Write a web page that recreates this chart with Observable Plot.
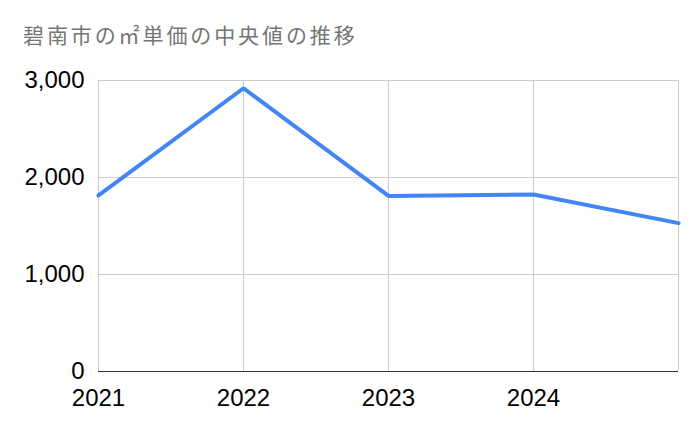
<!DOCTYPE html>
<html>
<head>
<meta charset="utf-8">
<script src="https://cdn.jsdelivr.net/npm/d3@7"></script>
<script src="https://cdn.jsdelivr.net/npm/@observablehq/plot@0.6"></script>
<style>
  html, body { margin: 0; padding: 0; background: #fff; }
  #wrap { width: 700px; height: 433px; position: relative; overflow: hidden; }
  #title {
    height: 60px; box-sizing: border-box; padding: 21px 0 0 23px;
    font-family: "Noto Sans CJK JP", sans-serif; font-size: 21px; letter-spacing: 2.9px;
    color: #757575; line-height: 26px; white-space: nowrap;
  }
  svg { display: block; }
</style>
</head>
<body>
<div id="wrap">
  <div id="title">碧南市の㎡単価の中央値の推移</div>
  <div id="chart"></div>
</div>
<script>
const title = "碧南市の㎡単価の中央値の推移";
const years = [2021, 2022, 2023, 2024, 2025];
const values = [1815, 2920, 1810, 1825, 1530];
const xTicks = [2021, 2022, 2023, 2024];
const yTicks = [0, 1000, 2000, 3000];

const data = years.map((year, i) => ({year, value: values[i]}));

const chart = Plot.plot({
  width: 700,
  height: 373,
  marginTop: 20,
  marginBottom: 62,
  marginLeft: 98,
  marginRight: 22,
  style: {fontFamily: "'Liberation Sans', Arial, sans-serif", fontSize: "24px", color: "#000", background: "#fff"},
  x: {domain: [2021, 2025], label: null},
  y: {domain: [0, 3000], label: null},
  marks: [
    Plot.ruleX(years, {x: d => d, stroke: "#cccccc", strokeWidth: 1}),
    Plot.ruleY(yTicks.filter(d => d > 0), {y: d => d, stroke: "#cccccc", strokeWidth: 1}),
    Plot.ruleY([0], {stroke: "#333333", strokeWidth: 1}),
    Plot.axisY(yTicks, {tickSize: 0, tickPadding: 14, tickFormat: d3.format(","), fontSize: 24, fill: "#000", label: null}),
    Plot.axisX(xTicks, {tickSize: 0, tickPadding: 17, tickFormat: d => String(d), fontSize: 24, fill: "#000", label: null}),
    Plot.line(data, {x: "year", y: "value", stroke: "#4285F4", strokeWidth: 4, strokeLinejoin: "miter"})
  ]
});
document.getElementById("chart").appendChild(chart);
</script>
</body>
</html>
